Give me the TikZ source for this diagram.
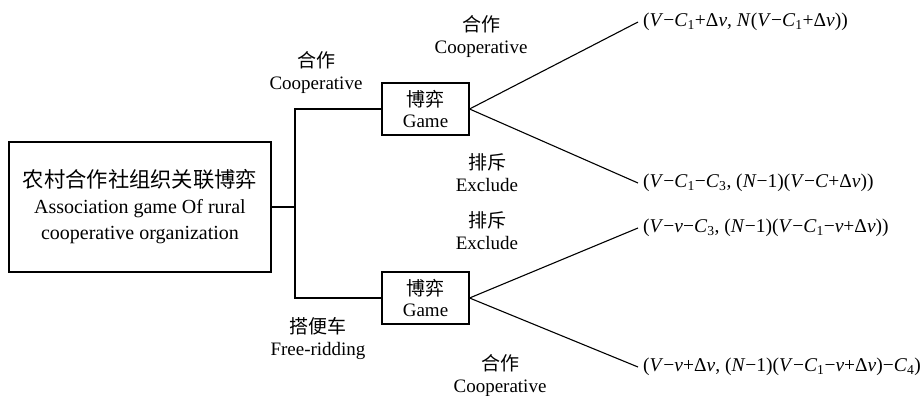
\documentclass[tikz,border=0pt]{standalone}
\usepackage{fontspec}
\setmainfont{Liberation Serif}
\newfontfamily\cjk{Noto Sans CJK SC}
\newcommand{\iv}[1]{\textit{#1}}
\newcommand{\sbs}[1]{\textsubscript{#1}}
\begin{document}
\begin{tikzpicture}[x=1pt,y=-1pt,
  every node/.style={inner sep=0pt},
  bigbox/.style={draw,line width=1.1pt,minimum width=262pt,minimum height=130pt,align=center,font=\fontsize{20}{26}\selectfont},
  gamebox/.style={draw,line width=1.1pt,minimum width=87pt,minimum height=52pt,align=center,font=\fontsize{19}{21}\selectfont},
  lbl/.style={align=center,font=\fontsize{19}{22}\selectfont},
  payoff/.style={anchor=west,inner xsep=5pt,font=\fontsize{19.5}{22}\selectfont},
  conn/.style={line width=1.1pt}]
\useasboundingbox (0,0) rectangle (921,396);
\fill[white] (0,0) rectangle (921,396);

\node[bigbox] (main) at (140,207) {{\cjk\fontsize{21.3}{26}\selectfont 农村合作社组织关联博弈}\\Association game Of rural\\cooperative organization};
\node[gamebox] (g1) at (425.5,109) {{\cjk 博弈}\\Game};
\node[gamebox] (g2) at (425.5,298) {{\cjk 博弈}\\Game};
\coordinate (j) at (295,207);

\node[payoff] (p1) at (638,22) {(\iv{V}−\iv{C}\sbs{1}+Δ\iv{v}, \iv{N}(\iv{V}−\iv{C}\sbs{1}+Δ\iv{v}))};
\node[payoff] (p2) at (638,183) {(\iv{V}−\iv{C}\sbs{1}−\iv{C}\sbs{3}, (\iv{N}−1)(\iv{V}−\iv{C}+Δ\iv{v}))};
\node[payoff] (p3) at (638,228) {(\iv{V}−\iv{v}−\iv{C}\sbs{3}, (\iv{N}−1)(\iv{V}−\iv{C}\sbs{1}−\iv{v}+Δ\iv{v}))};
\node[payoff] (p4) at (638,367) {(\iv{V}−\iv{v}+Δ\iv{v}, (\iv{N}−1)(\iv{V}−\iv{C}\sbs{1}−\iv{v}+Δ\iv{v})−\iv{C}\sbs{4})};

\node[lbl] (lc1) at (316,73) {{\cjk 合作}\\Cooperative};
\node[lbl] (lf) at (318,339) {{\cjk 搭便车}\\Free-ridding};
\node[lbl] (lc2) at (481,37) {{\cjk 合作}\\Cooperative};
\node[lbl] (le1) at (487,173) {{\cjk 排斥}\\Exclude};
\node[lbl] (le2) at (487,231) {{\cjk 排斥}\\Exclude};
\node[lbl] (lc3) at (500,376) {{\cjk 合作}\\Cooperative};

\draw[conn] (main.east) -- (j);
\draw[conn] (j) |- (g1.west);
\draw[conn] (j) |- (g2.west);
\draw[conn] (g1.east) -- (p1.west);
\draw[conn] (g1.east) -- (p2.west);
\draw[conn] (g2.east) -- (p3.west);
\draw[conn] (g2.east) -- (p4.west);
\end{tikzpicture}
\end{document}
